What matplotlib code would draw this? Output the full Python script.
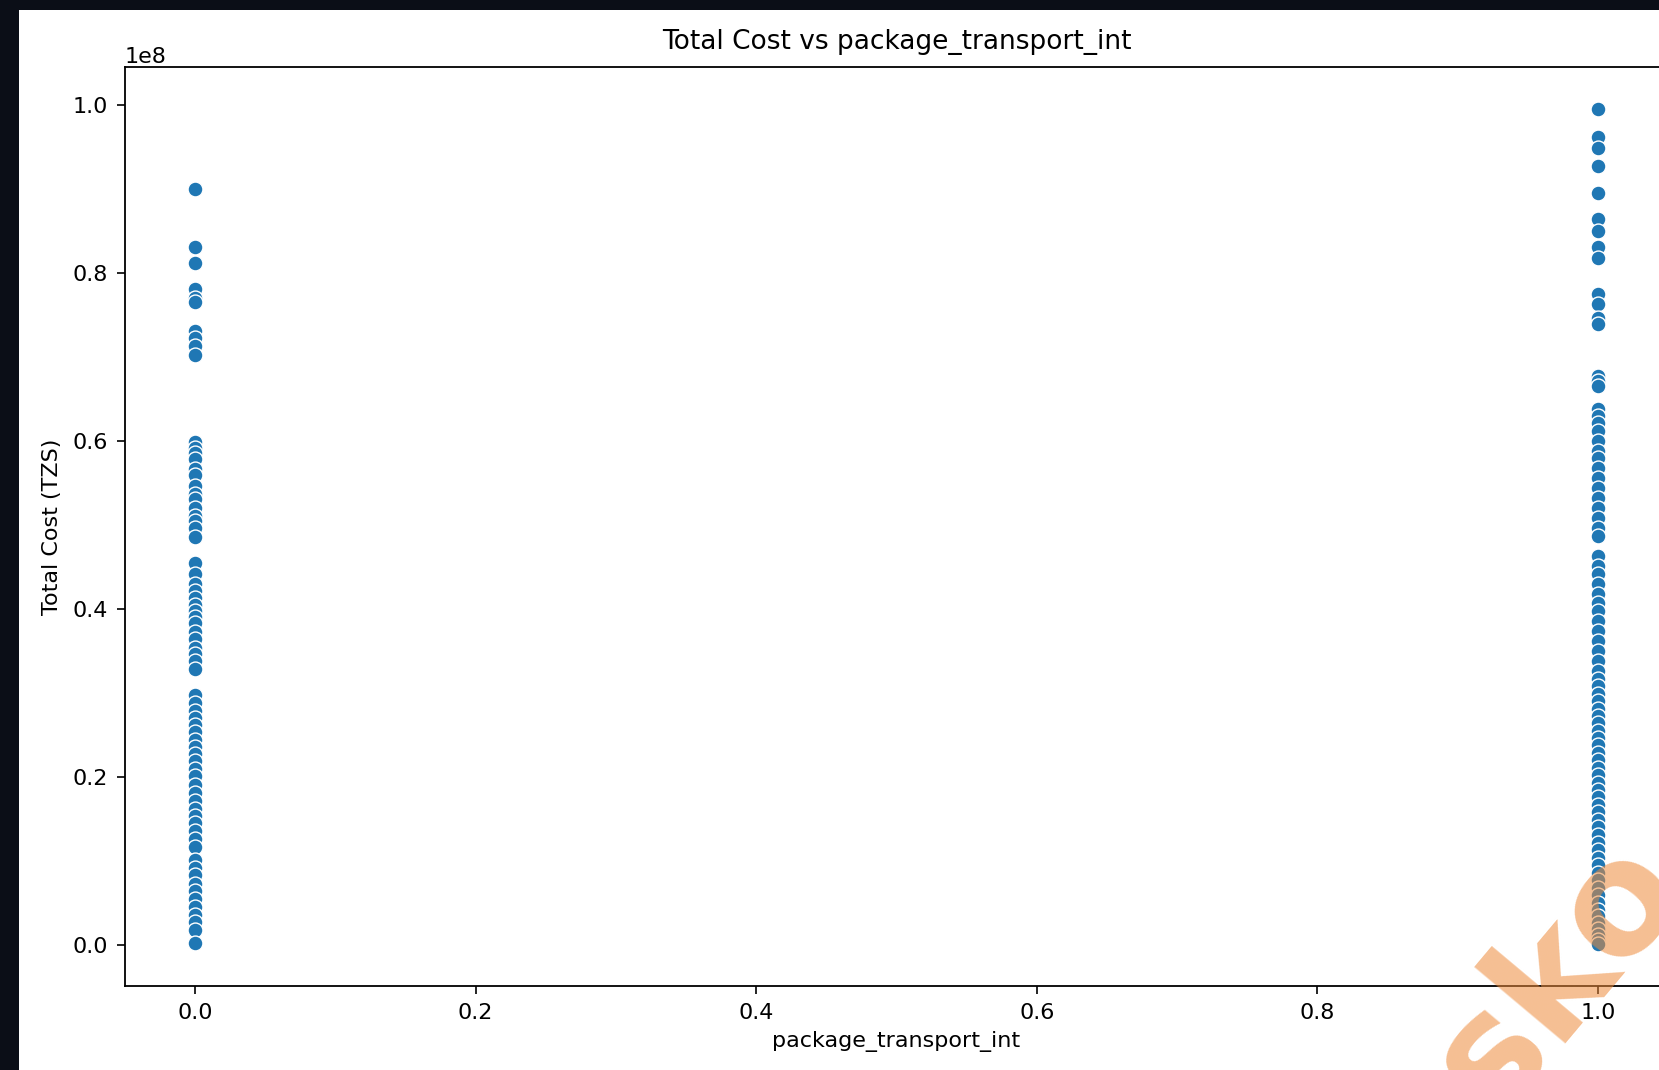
import numpy as np
import matplotlib
matplotlib.use("Agg")
import matplotlib.pyplot as plt
from matplotlib.patches import Rectangle

# total cost (in units of 1e8 TZS) for package_transport_int == 0
cost_no_transport = [
    0.900, 0.830, 0.811, 0.781, 0.770, 0.765, 0.731, 0.722, 0.713, 0.702,
    0.598, 0.591, 0.585, 0.578, 0.566, 0.559, 0.546, 0.537, 0.531, 0.520,
    0.511, 0.504, 0.496, 0.485,
    0.455, 0.442, 0.430, 0.421, 0.413, 0.405, 0.398, 0.390, 0.383, 0.372,
    0.364, 0.354, 0.346, 0.338, 0.329,
    0.297, 0.288, 0.279, 0.270, 0.262, 0.253, 0.244, 0.236, 0.227, 0.219,
    0.210, 0.201, 0.190, 0.181, 0.172, 0.162, 0.153, 0.145, 0.136, 0.126,
    0.117, 0.101, 0.092, 0.083, 0.073, 0.064, 0.055, 0.045, 0.036, 0.027,
    0.018, 0.003,
]
# total cost (in units of 1e8 TZS) for package_transport_int == 1
cost_transport = [
    0.995, 0.961, 0.948, 0.927, 0.895, 0.864, 0.850, 0.830, 0.818,
    0.775, 0.763, 0.746, 0.739, 0.677, 0.671, 0.665,
    0.638, 0.630, 0.621, 0.612, 0.600, 0.588, 0.579, 0.568, 0.556,
    0.544, 0.532, 0.520, 0.508, 0.496, 0.487,
    0.463, 0.451, 0.442, 0.430, 0.418, 0.407, 0.398, 0.386, 0.374,
    0.362, 0.350, 0.338, 0.326, 0.317,
    0.308, 0.299, 0.290, 0.281, 0.272, 0.264, 0.255, 0.246, 0.238, 0.229,
    0.220, 0.211, 0.202, 0.193, 0.184, 0.176, 0.167, 0.158, 0.149, 0.140,
    0.131, 0.122, 0.113, 0.104, 0.095, 0.086, 0.077, 0.068, 0.059, 0.050,
    0.042, 0.034, 0.026, 0.019, 0.012, 0.006, 0.001,
]

x = np.concatenate([np.zeros(len(cost_no_transport)), np.ones(len(cost_transport))])
y = np.concatenate([cost_no_transport, cost_transport]) * 1e8

W, H = 1659, 1070
fig = plt.figure(figsize=(W / 100, H / 100), dpi=100, facecolor="#0b0e17")
fig.add_artist(Rectangle((19 / W, 0), 1, (H - 10) / H, transform=fig.transFigure,
                         facecolor="white", edgecolor="none", zorder=0))

ax = fig.add_axes([125 / W, 84 / H, 1543 / W, 919 / H])
ax.scatter(x, y, s=115, color="#1f77b4", edgecolor="white", linewidth=1.0, zorder=3)

ax.set_title("Total Cost vs package_transport_int", fontsize=19, pad=13)
ax.set_xlabel("package_transport_int", fontsize=16, labelpad=6)
ax.set_ylabel("Total Cost (TZS)", fontsize=16, labelpad=8)
ax.tick_params(labelsize=16, length=6, width=1.2, pad=6)
ax.yaxis.get_offset_text().set_fontsize(16)
for sp in ax.spines.values():
    sp.set_linewidth(1.3)

fig.text(1495 / W, 1 - 1118 / H, "sko", fontsize=112, fontweight="bold",
         color="#ee8a3a", alpha=0.55, rotation=50, rotation_mode="anchor",
         ha="left", va="baseline", zorder=10)

fig.savefig("out.png", dpi=100, facecolor=fig.get_facecolor())
